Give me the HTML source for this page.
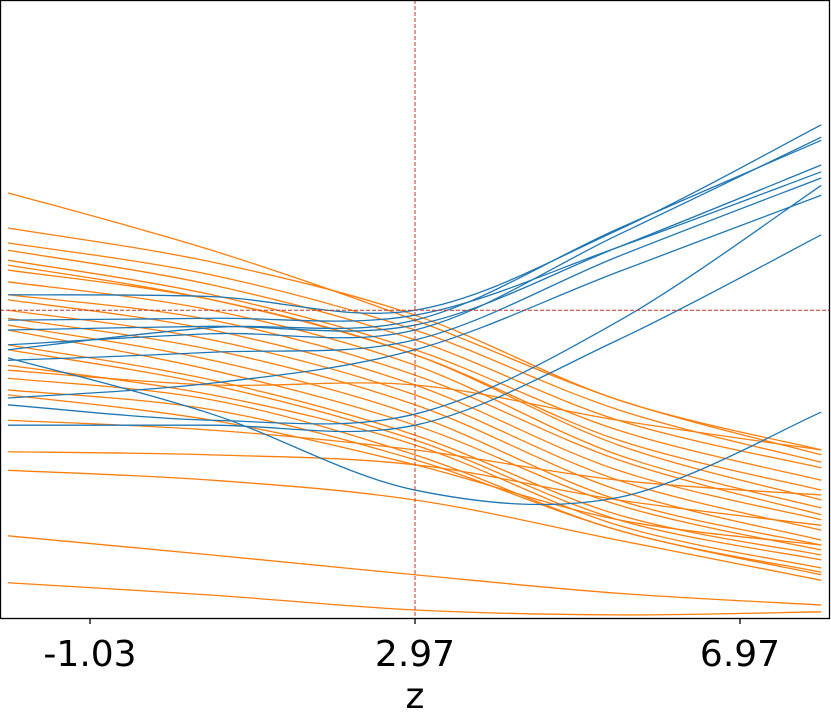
<!DOCTYPE html>
<html><head><meta charset="utf-8"><style>
body{margin:0;background:#fff}
svg text{font-family:"DejaVu Sans","Liberation Sans",sans-serif}
</style></head><body>
<svg id="chart" width="831" height="717" viewBox="0 0 831 717" xmlns="http://www.w3.org/2000/svg">
<g id="lines"></g>
<g id="axes"></g>
</svg>
<script>
// grid of z values where each line is sampled
const zGrid = [-2.04, 0.47, 2.97, 5.47, 7.97];
const tickValues = [-1.03, 2.97, 6.97];
const tickLabels = ["-1.03", "2.97", "6.97"];
const refZ = 2.97;
const refY = 0.498;
// prediction values (arbitrary units, 0 = bottom, 1 = top)
const orangeSeries = [
[0.688,0.595,0.482,0.353,0.264],
[0.631,0.576,0.490,0.353,0.272],
[0.607,0.555,0.466,0.337,0.252],
[0.595,0.539,0.450,0.320,0.243],
[0.579,0.523,0.434,0.304,0.223],
[0.571,0.515,0.426,0.288,0.207],
[0.563,0.515,0.426,0.280,0.191],
[0.544,0.498,0.409,0.264,0.178],
[0.523,0.482,0.393,0.256,0.167],
[0.515,0.466,0.377,0.239,0.159],
[0.498,0.450,0.361,0.223,0.142],
[0.485,0.434,0.345,0.207,0.126],
[0.474,0.417,0.328,0.191,0.118],
[0.466,0.401,0.312,0.183,0.110],
[0.442,0.385,0.296,0.167,0.102],
[0.434,0.377,0.288,0.159,0.094],
[0.409,0.361,0.280,0.150,0.081],
[0.401,0.377,0.377,0.320,0.272],
[0.388,0.353,0.264,0.142,0.074],
[0.369,0.337,0.256,0.142,0.070],
[0.361,0.320,0.248,0.159,0.118],
[0.320,0.304,0.272,0.223,0.199],
[0.269,0.264,0.248,0.191,0.150],
[0.239,0.223,0.191,0.126,0.061],
[0.133,0.102,0.070,0.040,0.021],
[0.057,0.037,0.013,0.005,0.010]
];
const blueSeries = [
[0.523,0.520,0.498,0.628,0.798],
[0.442,0.460,0.466,0.620,0.778],
[0.434,0.470,0.482,0.630,0.773],
[0.466,0.472,0.474,0.600,0.733],
[0.482,0.485,0.490,0.600,0.722],
[0.417,0.430,0.450,0.585,0.712],
[0.345,0.320,0.330,0.480,0.700],
[0.356,0.380,0.434,0.560,0.684],
[0.312,0.312,0.312,0.450,0.620],
[0.421,0.330,0.207,0.195,0.333]
];
const W=831,H=717,L=0,R=830,T=0,B=618;
const xScale=z=>90+(z-(-1.03))*(325/4);
const yScale=v=>B-v*B;
const ns="http://www.w3.org/2000/svg";
function mk(tag,attrs,parent){const e=document.createElementNS(ns,tag);for(const k in attrs)e.setAttribute(k,attrs[k]);parent.appendChild(e);return e;}
function curve(pts){let d="M"+pts[0][0]+","+pts[0][1];
for(let i=0;i<pts.length-1;i++){const p0=pts[i-1]||pts[i],p1=pts[i],p2=pts[i+1],p3=pts[i+2]||p2;
const c1=[p1[0]+(p2[0]-p0[0])/6,p1[1]+(p2[1]-p0[1])/6],c2=[p2[0]-(p3[0]-p1[0])/6,p2[1]-(p3[1]-p1[1])/6];
d+=" C"+c1+" "+c2+" "+p2;}return d;}
const lg=document.getElementById("lines");
orangeSeries.forEach((s,i)=>{const p=mk("path",{d:curve(s.map((v,j)=>[xScale(zGrid[j]),yScale(v)])),fill:"none",stroke:"#ff7f0e","stroke-width":1.3},lg);

});
blueSeries.forEach((s,i)=>{const p=mk("path",{d:curve(s.map((v,j)=>[xScale(zGrid[j]),yScale(v)])),fill:"none",stroke:"#1f77b4","stroke-width":1.3},lg);

});
const ag=document.getElementById("axes");
const vl=mk("line",{x1:xScale(refZ),x2:xScale(refZ),y1:T,y2:B,stroke:"#c0392b","stroke-width":1,"stroke-dasharray":"4,2"},ag);


const hl=mk("line",{x1:L,x2:R,y1:yScale(refY),y2:yScale(refY),stroke:"#c0392b","stroke-width":1,"stroke-dasharray":"4,2"},ag);


const fr=mk("rect",{x:L+0.5,y:T+0.5,width:R-L-1,height:B-T,fill:"none",stroke:"#000","stroke-width":1.3},ag);


tickValues.forEach((t,i)=>{const x=xScale(t);
const tk=mk("line",{x1:x,x2:x,y1:B,y2:B+6,stroke:"#000","stroke-width":1.3},ag);


const tx=mk("text",{x:x,y:B+48,"text-anchor":"middle","font-size":36},ag);
tx.textContent=tickLabels[i];

});
const xl=mk("text",{x:415,y:708,"text-anchor":"middle","font-size":36},ag);
xl.textContent="z";


</script>
</body></html>
